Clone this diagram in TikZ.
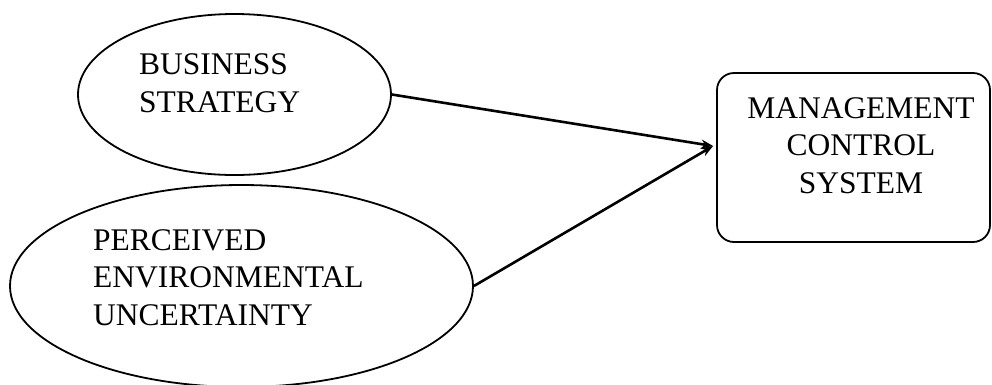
\documentclass[tikz,border=0pt]{standalone}
\usepackage{fontspec}
\setmainfont{Liberation Serif}
\usetikzlibrary{
  shapes.geometric, % Shape "ellipse"
  arrows.meta,
  positioning,
}
\tikzset{
  font=\fontsize{31.5}{37.5}\selectfont,
  x=1pt,
  y=-1pt,
  >={Stealth[length=12pt,width=9pt]},
  my ellipse/.style={
    draw,
    ellipse,
    line width=1.8pt,
    inner sep=0pt
  },
  my box/.style={
    draw,
    rectangle,
    rounded corners=17pt,
    line width=1.8pt,
    inner sep=0pt
  },
  my text/.style={
    inner sep=0pt,
    anchor=base west, % base = last line
    align=left
  },
  my arrow/.style={
    ->,
    line width=2.6pt
  }
}

\begin{document}
\begin{tikzpicture}
\useasboundingbox (0,0) rectangle (992,384);
% Business strategy
\node[my ellipse,minimum width=313pt,minimum height=161pt] (bs) at (234.5,94.5) {};
\node[my text] (bs text) at (139,112) {BUSINESS\\STRATEGY};
% Perceived environmental uncertainty
\node[my ellipse,minimum width=463pt,minimum height=202pt] (peu) at (241.5,286) {};
\node[my text] (peu text) at (93,325) {PERCEIVED\\ENVIRONMENTAL\\UNCERTAINTY};
% Management control system
\node[my box,minimum width=273pt,minimum height=169pt] (mcs) at (853.5,157.5) {};
\node[my text,align=center,anchor=base] (mcs text) at (861,193) {MANAGEMENT\\CONTROL\\SYSTEM};
% Arrows
\coordinate (tip) at ([xshift=-3pt,yshift=11.5pt]mcs.west);
\draw[my arrow] (bs.east) -- (tip);
\draw[my arrow] (peu.east) -- (tip);
\end{tikzpicture}
\end{document}
